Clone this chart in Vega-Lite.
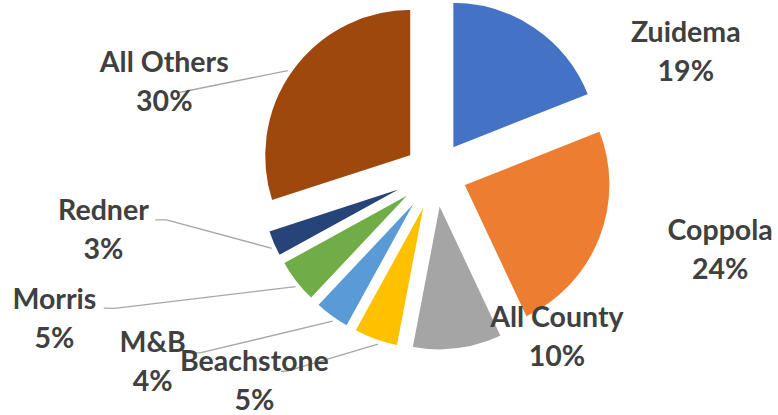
{
  "$schema": "https://vega.github.io/schema/vega-lite/v6.json",
  "width": 299,
  "height": 299,
  "autosize": {"type": "none"},
  "padding": {"left": 286, "top": 24, "right": 193, "bottom": 92},
  "background": "white",
  "config": {"view": {"stroke": null}},
  "data": {
    "values": [
      {"rank": 1, "name": "Zuidema", "pct": 0.19},
      {"rank": 2, "name": "Coppola", "pct": 0.24},
      {"rank": 3, "name": "All County", "pct": 0.10},
      {"rank": 4, "name": "Beachstone", "pct": 0.05},
      {"rank": 5, "name": "M&B", "pct": 0.04},
      {"rank": 6, "name": "Morris", "pct": 0.05},
      {"rank": 7, "name": "Redner", "pct": 0.03},
      {"rank": 8, "name": "All Others", "pct": 0.30}
    ]
  },
  "layer": [
    {
      "transform": [
        {"stack": "pct", "groupby": [], "sort": [{"field": "rank", "order": "ascending"}], "as": ["p0", "p1"]},
        {"filter": "datum.rank >= 4"}
      ],
      "mark": {"type": "rule", "color": "#A6A6A6", "strokeWidth": 1.3},
      "encoding": {
        "x": {"value": {"expr": "width/2 + 180*sin(PI*(datum.p0+datum.p1) - 0.02)"}},
        "y": {"value": {"expr": "height/2 - 180*cos(PI*(datum.p0+datum.p1) - 0.02)"}},
        "x2": {"value": {"expr": "width/2 + [0,0,0,247,296,348,273,270][datum.rank-1]*sin(PI*(datum.p0+datum.p1) + [0,0,0,17.1,16.7,15.0,13.6,-18.6][datum.rank-1]*PI/180)"}},
        "y2": {"value": {"expr": "height/2 - [0,0,0,247,296,348,273,270][datum.rank-1]*cos(PI*(datum.p0+datum.p1) + [0,0,0,17.1,16.7,15.0,13.6,-18.6][datum.rank-1]*PI/180)"}}
      }
    },
    {
      "transform": [
        {"stack": "pct", "groupby": [], "sort": [{"field": "rank", "order": "ascending"}], "as": ["p0", "p1"]},
        {"filter": "datum.rank >= 4 && datum.rank <= 7"}
      ],
      "mark": {"type": "rule", "color": "#A6A6A6", "strokeWidth": 1.3},
      "encoding": {
        "x": {"value": {"expr": "width/2 + [0,0,0,247,296,348,273,270][datum.rank-1]*sin(PI*(datum.p0+datum.p1) + [0,0,0,17.1,16.7,15.0,13.6,-18.6][datum.rank-1]*PI/180)"}},
        "y": {"value": {"expr": "height/2 - [0,0,0,247,296,348,273,270][datum.rank-1]*cos(PI*(datum.p0+datum.p1) + [0,0,0,17.1,16.7,15.0,13.6,-18.6][datum.rank-1]*PI/180)"}},
        "x2": {"value": {"expr": "width/2 + [0,0,0,251,306,358,284,270][datum.rank-1]*sin(PI*(datum.p0+datum.p1) + [0,0,0,18.2,18.1,15.7,14.0,-18.6][datum.rank-1]*PI/180)"}},
        "y2": {"value": {"expr": "height/2 - [0,0,0,251,306,358,284,270][datum.rank-1]*cos(PI*(datum.p0+datum.p1) + [0,0,0,18.2,18.1,15.7,14.0,-18.6][datum.rank-1]*PI/180)"}}
      }
    },
    {
      "mark": {
        "type": "arc",
        "radius": 147,
        "stroke": "white",
        "strokeWidth": 2,
        "xOffset": {"expr": "30*sin(PI*(datum.pct_start+datum.pct_end))"},
        "yOffset": {"expr": "-30*cos(PI*(datum.pct_start+datum.pct_end))"}
      },
      "encoding": {
        "theta": {"field": "pct", "type": "quantitative", "stack": true},
        "order": {"field": "rank", "type": "quantitative"},
        "color": {
          "field": "name",
          "type": "nominal",
          "scale": {
            "domain": ["Zuidema", "Coppola", "All County", "Beachstone", "M&B", "Morris", "Redner", "All Others"],
            "range": ["#4472C4", "#ED7D31", "#A5A5A5", "#FFC000", "#5B9BD5", "#70AD47", "#264478", "#9E480E"]
          },
          "legend": null
        }
      }
    },
    {
      "mark": {
        "type": "text",
        "font": "Lato",
        "fontWeight": "bold",
        "fontSize": 28.5,
        "lineHeight": 39,
        "dy": -19.5,
        "color": "#404040",
        "align": "center",
        "baseline": "middle",
        "radius": {"expr": "[278,295,204,276,340,408,337,286][datum.rank-1]"},
        "thetaOffset": {"expr": "[30.0,-6.4,-29.3,21.2,20.3,16.9,13.6,-17.5][datum.rank-1]*PI/180"},
        "text": {"expr": "[datum.name, format(datum.pct, '.0%')]"}
      },
      "encoding": {
        "theta": {"field": "pct", "type": "quantitative", "stack": true},
        "order": {"field": "rank", "type": "quantitative"}
      }
    }
  ]
}
